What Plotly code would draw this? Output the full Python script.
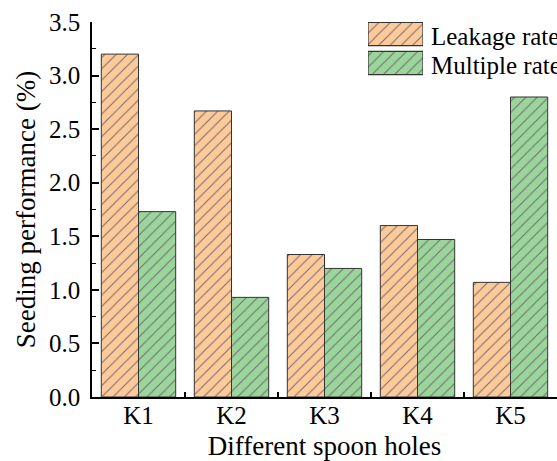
import plotly.graph_objects as go

# Seeding performance per spoon-hole type
holes = ["K1", "K2", "K3", "K4", "K5"]
leakage_rate = [3.20, 2.67, 1.33, 1.60, 1.07]
multiple_rate = [1.73, 0.93, 1.20, 1.47, 2.80]
series_names = ["Leakage rate", "Multiple rate"]

FONT = "Liberation Serif, 'Times New Roman', Times, serif"
ORANGE = "#FFCA9A"
GREEN = "#9BD59B"
EDGE = "#333333"
HATCH = "#6b6b6b"


def hatched(fill):
    return dict(shape="/", size=8, solidity=0.12, fgcolor=HATCH, bgcolor=fill, fillmode="replace")


fig = go.Figure()
fig.add_trace(go.Bar(
    x=holes, y=leakage_rate, name=series_names[0],
    marker=dict(color=ORANGE, line=dict(color=EDGE, width=1), pattern=hatched(ORANGE)),
))
fig.add_trace(go.Bar(
    x=holes, y=multiple_rate, name=series_names[1],
    marker=dict(color=GREEN, line=dict(color=EDGE, width=1), pattern=hatched(GREEN)),
))

# Key swatches drawn as full-width bars on a small inset axis
for name, fill, row in [(series_names[0], ORANGE, 1), (series_names[1], GREEN, 0)]:
    fig.add_trace(go.Bar(
        x=[1], y=[row], orientation="h", width=0.8, xaxis="x2", yaxis="y2",
        marker=dict(color=fill, line=dict(color=EDGE, width=1.2), pattern=hatched(fill)),
        hoverinfo="skip", showlegend=False,
    ))
    fig.add_annotation(
        xref="paper", yref="y2", x=(429 - 92) / 465, y=row, yshift=-2, text=name,
        showarrow=False, xanchor="left", yanchor="middle",
        font=dict(family=FONT, size=25, color="black"),
    )

fig.update_layout(
    width=557, height=461,
    margin=dict(l=92, r=0, t=22, b=64),
    paper_bgcolor="white", plot_bgcolor="white",
    barmode="group", bargap=0.2, bargroupgap=0,
    showlegend=False,
    font=dict(family=FONT, size=25, color="black"),
    xaxis=dict(
        type="category", range=[-0.5, 4.5],
        showline=True, linecolor="black", linewidth=1.5, mirror=False,
        ticks="inside", tickson="boundaries", ticklen=5, tickwidth=1.5, tickcolor="black",
        showgrid=False, zeroline=False,
        tickfont=dict(family=FONT, size=25), ticklabelstandoff=-5,
        title=dict(text="Different spoon holes", font=dict(family=FONT, size=27), standoff=12),
    ),
    yaxis=dict(
        range=[0, 3.5], dtick=0.5, tickformat=".1f",
        showline=True, linecolor="black", linewidth=1.5,
        ticks="inside", ticklen=7, tickwidth=1.5, tickcolor="black",
        minor=dict(ticks="inside", ticklen=4, tickwidth=1.2, tickcolor="black", dtick=0.25),
        showgrid=False, zeroline=False,
        tickfont=dict(family=FONT, size=25), ticklabelstandoff=5,
        title=dict(text="Seeding performance (%)", font=dict(family=FONT, size=27), standoff=6),
    ),
    xaxis2=dict(domain=[(368 - 92) / 465, (423 - 92) / 465], range=[0, 1], anchor="y2",
                visible=False, fixedrange=True),
    yaxis2=dict(domain=[(397 - 80) / 375, 1.0], range=[-17 / 29, 41 / 29], anchor="x2",
                visible=False, fixedrange=True),
)

fig.write_html("out.html")
